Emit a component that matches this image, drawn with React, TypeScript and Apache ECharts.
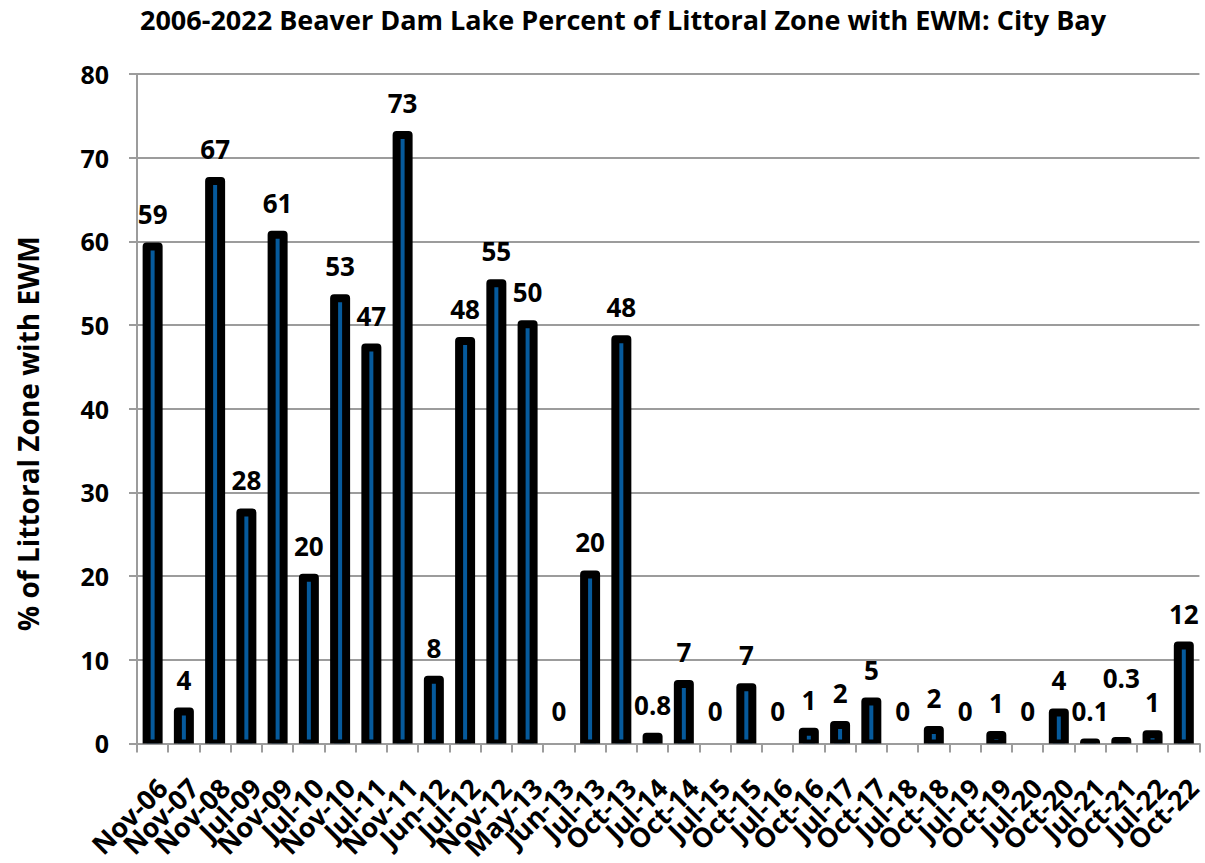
import React, { useEffect, useRef } from "react";
import * as echarts from "echarts";

const categories = [
  "Nov-06", "Nov-07", "Nov-08", "Jul-09", "Nov-09", "Jul-10", "Nov-10", "Jul-11", "Nov-11",
  "Jun-12", "Jul-12", "Nov-12", "May-13", "Jun-13", "Jul-13", "Oct-13", "Jul-14", "Oct-14",
  "Jul-15", "Oct-15", "Jul-16", "Oct-16", "Jul-17", "Oct-17", "Jul-18", "Oct-18", "Jul-19",
  "Oct-19", "Jul-20", "Oct-20", "Jul-21", "Oct-21", "Jul-22", "Oct-22",
];
const values = [
  59.4, 3.8, 67.2, 27.6, 60.8, 19.8, 53.2, 47.3, 72.7,
  7.6, 48.1, 55.0, 50.1, 0, 20.2, 48.3, 0.8, 7.1,
  0, 6.7, 0, 1.4, 2.2, 5.0, 0, 1.6, 0,
  1.0, 0, 3.7, 0.1, 0.3, 1.1, 11.7,
];
const labels = [
  "59", "4", "67", "28", "61", "20", "53", "47", "73",
  "8", "48", "55", "50", "0", "20", "48", "0.8", "7",
  "0", "7", "0", "1", "2", "5", "0", "2", "0",
  "1", "0", "4", "0.1", "0.3", "1", "12",
];
// labels that were lifted higher in the original to avoid overlapping
const raisedLabels = ["Oct-21"];
const yTicks = { min: 0, max: 80, interval: 10 };
const titleText = "2006-2022 Beaver Dam Lake Percent of Littoral Zone with EWM: City Bay";
const yName = "% of Littoral Zone with EWM";

const FONT = "'Open Sans', 'Noto Sans', sans-serif";
const BLUE = "#065a9c";
const GRID = "#9c9c9c";

export default function App() {
  const ref = useRef<HTMLDivElement>(null);
  useEffect(() => {
    if (!ref.current) return;
    const chart = echarts.init(ref.current, null, { renderer: "svg" });
    chart.setOption({
      animation: false,
      backgroundColor: "#ffffff",
      title: {
        text: titleText,
        left: 618,
        textAlign: "center",
        top: 1,
        textStyle: { fontFamily: FONT, fontWeight: "bold", fontSize: 27, color: "#000" },
      },
      grid: { left: 137, right: 4, top: 74, bottom: 114.5, containLabel: false },
      xAxis: {
        type: "category",
        data: categories,
        axisLine: { lineStyle: { color: GRID, width: 2 } },
        axisTick: { show: true, length: 9, lineStyle: { color: GRID, width: 2 } },
        axisLabel: {
          rotate: 45,
          interval: 0,
          margin: 30,
          verticalAlign: "top",
          fontFamily: FONT,
          fontWeight: "bold",
          fontSize: 27,
          color: "#000",
        },
      },
      yAxis: {
        type: "value",
        min: yTicks.min,
        max: yTicks.max,
        interval: yTicks.interval,
        name: yName,
        nameLocation: "middle",
        nameRotate: 90,
        nameGap: 95,
        nameTextStyle: {
          fontFamily: FONT,
          fontWeight: "bold",
          fontSize: 28,
          color: "#000",
          padding: [0, 50, 0, 0],
        },
        axisLine: { show: true, lineStyle: { color: GRID, width: 2 } },
        axisTick: { show: true, length: 8, lineStyle: { color: GRID, width: 2 } },
        splitLine: { show: true, lineStyle: { color: GRID, width: 2 } },
        axisLabel: {
          margin: 28,
          fontFamily: FONT,
          fontWeight: "bold",
          fontSize: 25,
          color: "#000",
        },
      },
      series: [
        {
          type: "custom",
          clip: true,
          encode: { x: 0, y: 1 },
          data: values.map((v, i) => [i, v]),
          renderItem: (params: any, api: any) => {
            const x = api.value(0);
            const v = api.value(1);
            if (!v) return { type: "group", children: [] };
            const top = api.coord([x, v]);
            const base = api.coord([x, 0]);
            const w = 12;
            return {
              type: "rect",
              shape: { x: top[0] - w / 2, y: top[1], width: w, height: base[1] - top[1] },
              style: { fill: BLUE, stroke: "#000", lineWidth: 8, lineJoin: "round" },
            };
          },
          z: 3,
        },
        {
          type: "bar",
          barWidth: 12,
          data: values.map((v, i) => ({
            value: v,
            label: {
              formatter: labels[i],
              distance: raisedLabels.includes(categories[i]) ? 50 : 19,
            },
          })),
          itemStyle: { color: "rgba(0,0,0,0)", borderWidth: 0 },
          label: {
            show: true,
            position: "top",
            distance: 19,
            fontFamily: FONT,
            fontWeight: "bold",
            fontSize: 26,
            color: "#000",
          },
          z: 4,
        },
      ],
    });
    return () => chart.dispose();
  }, []);
  return (
    <div
      ref={ref}
      style={{ position: "fixed", left: 0, top: 0, width: 1205, height: 863, background: "#fff" }}
    />
  );
}
